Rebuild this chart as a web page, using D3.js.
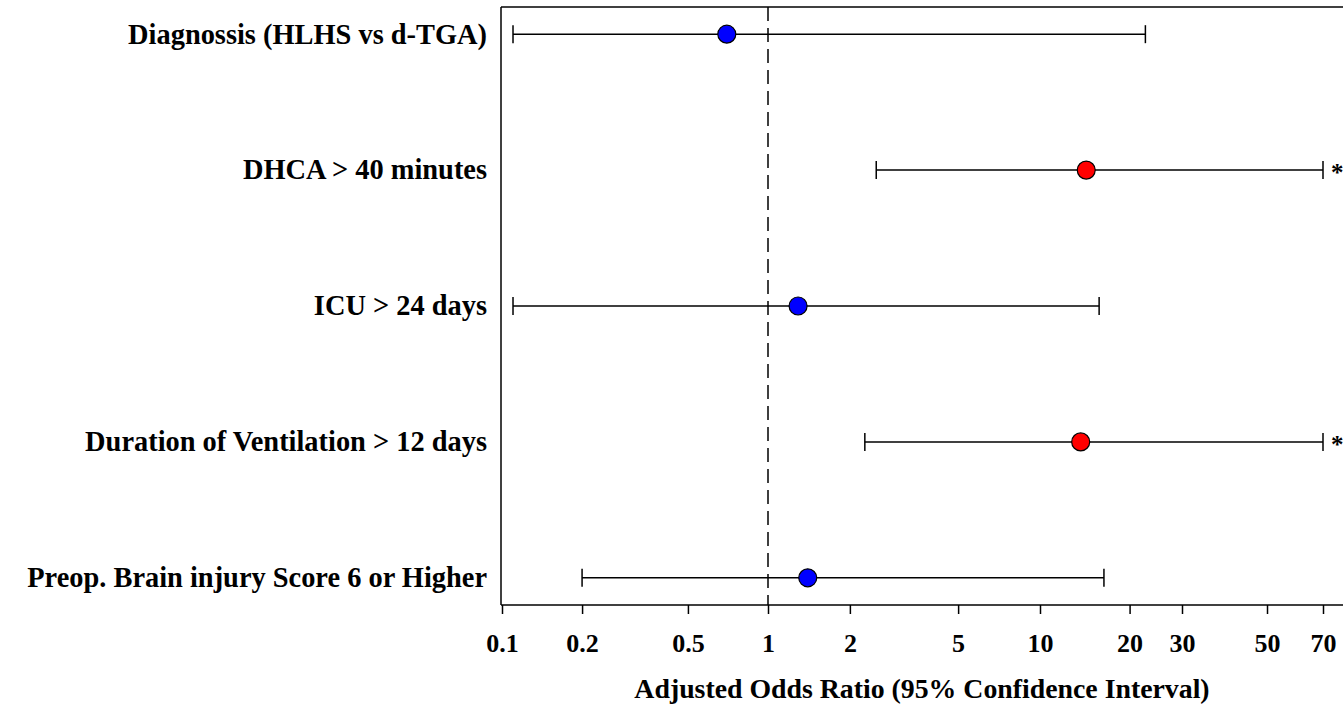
<!DOCTYPE html>
<html>
<head>
<meta charset="utf-8">
<script src="https://cdn.jsdelivr.net/npm/d3@7"></script>
<style>
  body { margin: 0; background: #fff; }
  svg text { font-family: "Liberation Serif", "Times New Roman", serif; font-weight: bold; fill: #000; }
</style>
</head>
<body>
<div id="chart"></div>
<script>
const labels = [
  "Diagnossis (HLHS vs d-TGA)",
  "DHCA > 40 minutes",
  "ICU > 24 days",
  "Duration of Ventilation > 12 days",
  "Preop. Brain injury Score 6 or Higher"
];
const oddsRatio = [0.70, 14.3, 1.29, 13.7, 1.40];
const lowerCI   = [0.11, 2.50, 0.11, 2.27, 0.20];
const upperCI   = [22.6, 70, 15.8, 70, 16.4];
const significant = [false, true, false, true, false];
const tickValues = [0.1, 0.2, 0.5, 1, 2, 5, 10, 20, 30, 50, 70];

const width = 1343, height = 709;
const plotLeft = 501, plotTop = 7, plotBottom = 605, plotRight = 1343;

const svg = d3.select('#chart').append('svg')
  .attr('width', width)
  .attr('height', height);

// log axis, stretched above 10 as in the original figure
const x = d3.scaleLog()
  .domain([0.1, 1, 10, 30, 70])
  .range([plotLeft + 1, 768, 1040, 1182, 1323]);

const y = d3.scalePoint()
  .domain(labels)
  .range([plotTop, plotBottom])
  .padding(0.2);

// frame
svg.append('line')
  .attr('x1', plotLeft).attr('x2', plotRight)
  .attr('y1', plotTop).attr('y2', plotTop)
  .attr('stroke', '#000').attr('stroke-width', 1.5);
svg.append('line')
  .attr('x1', plotLeft).attr('x2', plotLeft)
  .attr('y1', plotTop).attr('y2', plotBottom)
  .attr('stroke', '#000').attr('stroke-width', 1.5);

// x axis
const xAxis = svg.append('g')
  .attr('transform', 'translate(0,' + plotBottom + ')')
  .call(d3.axisBottom(x).tickValues(tickValues).tickFormat(d3.format('')).tickSize(9).tickSizeOuter(0))
  .attr('font-family', '"Liberation Serif", serif');
xAxis.select('.domain').attr('d', 'M' + plotLeft + ',0H' + plotRight).attr('stroke-width', 1.5);
xAxis.selectAll('.tick line').attr('stroke-width', 1.5);
xAxis.selectAll('.tick text')
  .attr('font-size', 26)
  .attr('dy', 0)
  .attr('y', 47);

svg.append('text')
  .attr('x', (plotLeft + plotRight) / 2)
  .attr('y', 698)
  .attr('text-anchor', 'middle')
  .attr('font-size', 27.8)
  .text('Adjusted Odds Ratio (95% Confidence Interval)');

// reference line at OR = 1
svg.append('line')
  .attr('x1', x(1)).attr('x2', x(1))
  .attr('y1', plotTop).attr('y2', plotBottom)
  .attr('stroke', '#000').attr('stroke-width', 1.5)
  .attr('stroke-dasharray', '14,7');

// row labels
svg.append('g').selectAll('text')
  .data(labels)
  .join('text')
  .attr('x', 487)
  .attr('y', d => y(d))
  .attr('dy', '0.33em')
  .attr('text-anchor', 'end')
  .attr('font-size', 28.4)
  .text(d => d);

const rows = labels.map((d, i) => ({
  label: d, or: oddsRatio[i], lo: lowerCI[i], hi: upperCI[i], sig: significant[i]
}));

const g = svg.append('g');

g.selectAll('.ci')
  .data(rows)
  .join('line')
  .attr('x1', d => x(d.lo)).attr('x2', d => x(d.hi))
  .attr('y1', d => y(d.label)).attr('y2', d => y(d.label))
  .attr('stroke', '#000').attr('stroke-width', 1.5);

g.selectAll('.capL')
  .data(rows)
  .join('line')
  .attr('x1', d => x(d.lo)).attr('x2', d => x(d.lo))
  .attr('y1', d => y(d.label) - 9).attr('y2', d => y(d.label) + 9)
  .attr('stroke', '#000').attr('stroke-width', 1.5);

g.selectAll('.capR')
  .data(rows)
  .join('line')
  .attr('x1', d => x(d.hi)).attr('x2', d => x(d.hi))
  .attr('y1', d => y(d.label) - 9).attr('y2', d => y(d.label) + 9)
  .attr('stroke', '#000').attr('stroke-width', 1.5);

g.selectAll('circle')
  .data(rows)
  .join('circle')
  .attr('cx', d => x(d.or))
  .attr('cy', d => y(d.label))
  .attr('r', 9)
  .attr('fill', d => d.sig ? '#ff0000' : '#0000ff')
  .attr('stroke', '#000')
  .attr('stroke-width', 1.2);

g.selectAll('.star')
  .data(rows.filter(d => d.sig))
  .join('text')
  .attr('x', d => x(d.hi) + 8)
  .attr('y', d => y(d.label))
  .attr('dy', '0.45em')
  .attr('font-size', 25)
  .text('*');
</script>
</body>
</html>
